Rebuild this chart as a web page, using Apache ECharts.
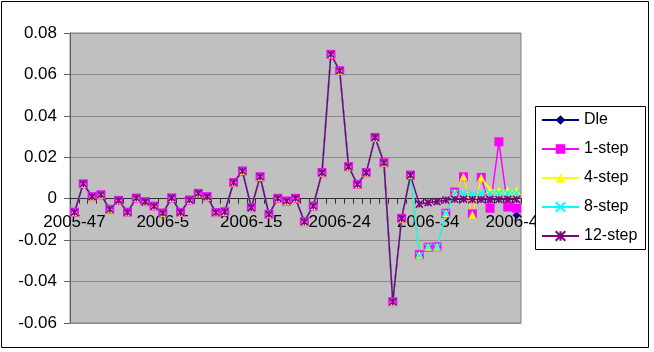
<!DOCTYPE html>
<html>
<head>
<meta charset="utf-8" />
<script src="https://cdn.jsdelivr.net/npm/echarts@6/dist/echarts.min.js"></script>
<style>
  html, body { margin: 0; padding: 0; background: #ffffff; }
  #chart { width: 654px; height: 352px; }
</style>
</head>
<body>
<div id="chart"></div>
<script>
// week labels, one per point (only every 10th is shown)
const weeks = [
  "2005-47", "2005-48", "2005-49", "2005-50", "2005-51", "2005-52",
  "2006-1", "2006-2", "2006-3", "2006-4", "2006-5", "2006-6", "2006-7",
  "2006-8", "2006-9", "2006-10", "2006-11", "2006-12", "2006-13", "2006-14",
  "2006-15", "2006-16", "2006-17", "2006-18", "2006-19", "2006-20", "2006-20b",
  "2006-21", "2006-22", "2006-23", "2006-24", "2006-25", "2006-26", "2006-27",
  "2006-28", "2006-29", "2006-30", "2006-31", "2006-32", "2006-33", "2006-34",
  "2006-35", "2006-36", "2006-37", "2006-38", "2006-39", "2006-40", "2006-41",
  "2006-42", "2006-43", "2006-44",
];

const yTicks = [-0.06, -0.04, -0.02, 0, 0.02, 0.04, 0.06, 0.08];

const dle = [
  -0.0065, 0.0072, 0.001, 0.0019, -0.0051, -0.0008, -0.0065, 0.0003, -0.0014, -0.0036,
  -0.0069, 0.0004, -0.0066, -0.0006, 0.0026, 0.001, -0.0067, -0.0063, 0.0078, 0.0134,
  -0.0043, 0.0106, -0.0075, 0.0002, -0.0011, 0.0002, -0.0111, -0.0035, 0.0126, 0.0697,
  0.0618, 0.0155, 0.007, 0.0126, 0.0296, 0.0174, -0.0497, -0.0095, 0.0114,
  null, null, null, null, null, null, null, null, null, null, null, -0.008,
];
const step1 = [
  -0.0065, 0.0072, 0.001, 0.0019, -0.0051, -0.0008, -0.0065, 0.0003, -0.0014, -0.0036,
  -0.0069, 0.0004, -0.0066, -0.0006, 0.0026, 0.001, -0.0067, -0.0063, 0.0078, 0.0134,
  -0.0043, 0.0106, -0.0075, 0.0002, -0.0011, 0.0002, -0.0111, -0.0035, 0.0126, 0.0697,
  0.0618, 0.0155, 0.007, 0.0126, 0.0296, 0.0174, -0.0497, -0.0095, 0.0114,
  -0.027, -0.0234, -0.0232, -0.007, 0.0032, 0.0106, -0.0073, 0.0103, -0.0046, 0.0275,
  -0.004, -0.0046,
];
const step4 = [
  -0.0065, 0.0072, 0.001, 0.0019, -0.0051, -0.0008, -0.0065, 0.0003, -0.0014, -0.0036,
  -0.0069, 0.0004, -0.0066, -0.0006, 0.0026, 0.001, -0.0067, -0.0063, 0.0078, 0.0134,
  -0.0043, 0.0106, -0.0075, 0.0002, -0.0011, 0.0002, -0.0111, -0.0035, 0.0126, 0.0697,
  0.0618, 0.0155, 0.007, 0.0126, 0.0296, 0.0174, -0.0497, -0.0095, 0.0114,
  -0.0272, -0.0232, -0.0232, -0.007, 0.003, 0.0106, -0.0077, 0.0101, 0.0045, 0.004,
  0.004, 0.0038,
];
const step8 = [
  -0.0065, 0.0072, 0.001, 0.0019, -0.0051, -0.0008, -0.0065, 0.0003, -0.0014, -0.0036,
  -0.0069, 0.0004, -0.0066, -0.0006, 0.0026, 0.001, -0.0067, -0.0063, 0.0078, 0.0134,
  -0.0043, 0.0106, -0.0075, 0.0002, -0.0011, 0.0002, -0.0111, -0.0035, 0.0126, 0.0697,
  0.0618, 0.0155, 0.007, 0.0126, 0.0296, 0.0174, -0.0497, -0.0095, 0.0114,
  -0.0275, -0.0233, -0.0233, -0.007, 0.0028, 0.0025, 0.0022, 0.0025, 0.0026, 0.0027,
  0.0027, 0.0028,
];
const step12 = [
  -0.0065, 0.0072, 0.001, 0.0019, -0.0051, -0.0008, -0.0065, 0.0003, -0.0014, -0.0036,
  -0.0069, 0.0004, -0.0066, -0.0006, 0.0026, 0.001, -0.0067, -0.0063, 0.0078, 0.0134,
  -0.0043, 0.0106, -0.0075, 0.0002, -0.0011, 0.0002, -0.0111, -0.0035, 0.0126, 0.0697,
  0.0618, 0.0155, 0.007, 0.0126, 0.0296, 0.0174, -0.0497, -0.0095, 0.0114,
  -0.0026, -0.0019, -0.0014, -0.0006, -0.0003, -0.0002, -0.0004, -0.0004, -0.0004, -0.0004,
  -0.0004, -0.0004,
];

const font = "'Liberation Sans', Arial, sans-serif";
const crossPath = "path://M0,0L10,10M10,0L0,10";
const starPath = "path://M0,0L10,10M10,0L0,10M5,0L5,10";

// plot box in px, the category axis sits on the zero line
const plotTop = 33;
const plotBottom = 29;
const plotHeight = 352 - plotTop - plotBottom;
const zeroOffset = -(0 - yTicks[0]) / (yTicks[yTicks.length - 1] - yTicks[0]) * plotHeight;

const chart = echarts.init(document.getElementById("chart"), null, { renderer: "canvas" });

const lineSeries = (name, data, color, symbol, size, stroke) => ({
  name: name,
  type: "line",
  data: data,
  symbol: symbol,
  symbolSize: size,
  showSymbol: true,
  showAllSymbol: true,
  connectNulls: false,
  animation: false,
  lineStyle: { color: color, width: 1.5 },
  itemStyle: stroke
    ? { color: color, borderColor: color, borderWidth: 1.5 }
    : { color: color, borderColor: color, borderWidth: 0 },
});

const option = {
  backgroundColor: "#ffffff",
  animation: false,
  textStyle: { fontFamily: font },
  grid: {
    left: 70,
    right: 133,
    top: plotTop,
    bottom: plotBottom,
    show: true,
    backgroundColor: "#c0c0c0",
    borderColor: "#808080",
    borderWidth: 1,
  },
  legend: {
    orient: "vertical",
    left: 535,
    top: 106,
    z: 10,
    padding: [6, 6, 6, 6],
    itemWidth: 37,
    itemHeight: 12,
    itemGap: 13,
    textStyle: { fontSize: 16, lineHeight: 16, color: "#000", fontFamily: font },
    data: ["Dle", "1-step", "4-step", "8-step", "12-step"],
  },
  xAxis: {
    type: "category",
    data: weeks,
    boundaryGap: true,
    position: "bottom",
    offset: zeroOffset,
    axisLine: { onZero: false, lineStyle: { color: "#303030", width: 1 } },
    axisTick: { show: true, interval: 0, length: 5, lineStyle: { color: "#303030" } },
    axisLabel: {
      interval: 9,
      margin: 15,
      fontSize: 17,
      color: "#000",
      fontFamily: font,
    },
    splitLine: { show: false },
  },
  yAxis: {
    type: "value",
    min: yTicks[0],
    max: yTicks[yTicks.length - 1],
    interval: 0.02,
    axisLine: { show: true, lineStyle: { color: "#606060" } },
    axisTick: { show: true, length: 6, lineStyle: { color: "#606060" } },
    axisLabel: {
      margin: 13,
      fontSize: 17,
      color: "#000",
      fontFamily: font,
      formatter: (v) => String(Number(v.toFixed(2))),
    },
    splitLine: { show: true, lineStyle: { color: "#8c8c8c", width: 1 } },
  },
  series: [
    lineSeries("Dle", dle, "#000080", "diamond", 8, false),
    lineSeries("1-step", step1, "#ff00ff", "rect", 9, false),
    lineSeries("4-step", step4, "#ffff00", "triangle", 8, false),
    lineSeries("8-step", step8, "#00ffff", crossPath, 7, true),
    lineSeries("12-step", step12, "#800080", starPath, 7, true),
  ],
  graphic: [
    // outer chart frame
    {
      type: "rect",
      z: 100,
      shape: { x: 1.5, y: 1.5, width: 647, height: 346 },
      style: { fill: null, stroke: "#000", lineWidth: 1 },
    },
    // legend box, white so it covers the last axis label
    {
      type: "rect",
      z: 9,
      shape: { x: 535.5, y: 106.5, width: 110, height: 143 },
      style: { fill: "#ffffff", stroke: "#000", lineWidth: 1 },
    },
  ],
};

chart.setOption(option);
</script>
</body>
</html>
